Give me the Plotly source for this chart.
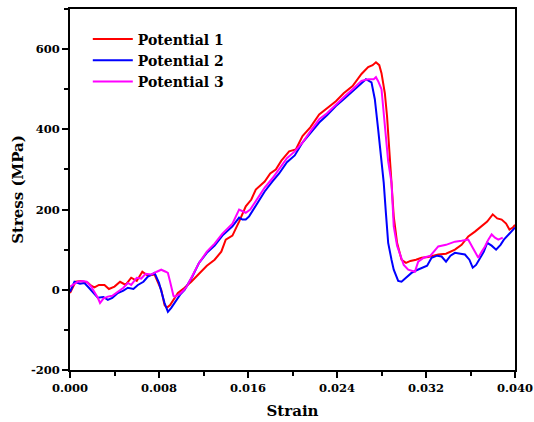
import plotly.graph_objects as go

# Potential 1 (red)
strain_p1 = [0.0000, 0.0005, 0.0010, 0.0016, 0.0019, 0.0022, 0.0026, 0.0031, 0.0035, 0.0040, 0.0045,
             0.0050, 0.0055, 0.0060, 0.0065, 0.0070, 0.0076, 0.0079, 0.0082, 0.0085, 0.0087, 0.0090,
             0.0094, 0.0097, 0.0103, 0.0109, 0.0116, 0.0123, 0.0130, 0.0136, 0.0140, 0.0146, 0.0152,
             0.0158, 0.0163, 0.0167, 0.0175, 0.0180, 0.0185, 0.0190, 0.0197, 0.0203, 0.0209, 0.0216,
             0.0224, 0.0231, 0.0239, 0.0246, 0.0254, 0.0262, 0.0268, 0.0272, 0.0275, 0.0278, 0.0280,
             0.0283, 0.0285, 0.0288, 0.0291, 0.0294, 0.0298, 0.0302, 0.0306, 0.0311, 0.0316, 0.0322,
             0.0331, 0.0338, 0.0346, 0.0352, 0.0358, 0.0364, 0.0370, 0.0375, 0.0380, 0.0384, 0.0388,
             0.0392, 0.0395, 0.0398, 0.0400]
stress_p1 = [-8, 20, 22, 18, 10, 6, 12, 12, 2, 8, 20,
             12, 30, 22, 45, 35, 38, 20, 0, -38, -45, -38,
             -20, -8, 5, 20, 40, 60, 75, 95, 125, 135, 170,
             208, 225, 250, 270, 290, 300, 322, 345, 350, 383, 405,
             437, 452, 470, 490, 508, 538, 555, 560, 567, 560, 540,
             490, 432, 308, 183, 117, 75, 67, 72, 75, 80, 82,
             88, 90, 100, 112, 133, 145, 158, 170, 188, 178, 175,
             165, 150, 155, 162]

# Potential 2 (blue)
strain_p2 = [0.0000, 0.0004, 0.0009, 0.0013, 0.0017, 0.0020, 0.0025, 0.0030, 0.0034, 0.0038, 0.0043,
             0.0048, 0.0052, 0.0057, 0.0061, 0.0066, 0.0070, 0.0076, 0.0080, 0.0085, 0.0088, 0.0091,
             0.0094, 0.0099, 0.0103, 0.0110, 0.0116, 0.0123, 0.0130, 0.0137, 0.0146, 0.0152, 0.0155,
             0.0158, 0.0161, 0.0168, 0.0175, 0.0182, 0.0188, 0.0195, 0.0202, 0.0209, 0.0216, 0.0224,
             0.0231, 0.0239, 0.0246, 0.0254, 0.0262, 0.0266, 0.0271, 0.0274, 0.0277, 0.0279, 0.0282,
             0.0284, 0.0286, 0.0289, 0.0291, 0.0295, 0.0298, 0.0302, 0.0307, 0.0311, 0.0316, 0.0321,
             0.0325, 0.0330, 0.0334, 0.0338, 0.0342, 0.0346, 0.0351, 0.0355, 0.0359, 0.0362, 0.0365,
             0.0368, 0.0372, 0.0375, 0.0379, 0.0383, 0.0387, 0.0390, 0.0395, 0.0400]
stress_p2 = [-5, 20, 15, 17, 5, -5, -20, -18, -25, -20, -8,
             -2, 5, 2, 12, 20, 33, 42, 17, -33, -55, -45,
             -33, -12, 0, 33, 67, 92, 110, 135, 158, 180, 175,
             175, 183, 215, 245, 270, 290, 318, 335, 367, 390, 417,
             435, 458, 475, 496, 517, 525, 517, 475, 400, 350, 267,
             190, 117, 75, 50, 22, 20, 30, 42, 48, 55, 60,
             80, 85, 83, 70, 85, 92, 90, 88, 75, 55, 62,
             75, 95, 117, 110, 100, 112, 125, 140, 155]

# Potential 3 (magenta)
strain_p3 = [0.0000, 0.0004, 0.0007, 0.0011, 0.0015, 0.0019, 0.0022, 0.0025, 0.0027, 0.0030, 0.0034,
             0.0038, 0.0043, 0.0048, 0.0052, 0.0055, 0.0060, 0.0064, 0.0068, 0.0073, 0.0078, 0.0082,
             0.0086, 0.0088, 0.0090, 0.0091, 0.0093, 0.0094, 0.0098, 0.0102, 0.0105, 0.0110, 0.0116,
             0.0123, 0.0130, 0.0137, 0.0146, 0.0152, 0.0158, 0.0162, 0.0168, 0.0175, 0.0182, 0.0188,
             0.0195, 0.0202, 0.0209, 0.0216, 0.0224, 0.0231, 0.0239, 0.0246, 0.0254, 0.0262, 0.0268,
             0.0273, 0.0275, 0.0277, 0.0280, 0.0282, 0.0284, 0.0286, 0.0289, 0.0291, 0.0294, 0.0297,
             0.0300, 0.0304, 0.0307, 0.0310, 0.0313, 0.0318, 0.0324, 0.0331, 0.0338, 0.0346, 0.0352,
             0.0358, 0.0362, 0.0365, 0.0367, 0.0370, 0.0373, 0.0376, 0.0379, 0.0382, 0.0385, 0.0389]
stress_p3 = [8, 15, 20, 22, 20, 8, -5, -20, -33, -22, -17,
             -15, -5, 5, 17, 12, 30, 28, 40, 38, 45, 50,
             45, 42, 20, 8, -15, -17, -12, -2, 8, 35, 67,
             95, 115, 140, 165, 200, 192, 200, 225, 255, 278, 300,
             328, 345, 367, 395, 425, 440, 462, 480, 500, 521, 525,
             525, 530, 520, 500, 440, 392, 320, 267, 158, 110, 83,
             62, 50, 48, 45, 70, 80, 85, 108, 112, 120, 122,
             125, 105, 90, 80, 95, 108, 125, 138, 130, 125, 130]

names = ["Potential 1", "Potential 2", "Potential 3"]
colors = ["#FF0000", "#0000FF", "#FF00FF"]

x_tickvals = [0.0, 0.008, 0.016, 0.024, 0.032, 0.040]
x_ticktext = ["0.000", "0.008", "0.016", "0.024", "0.032", "0.040"]
y_tickvals = [-200, 0, 200, 400, 600]
y_ticktext = ["-200", "0", "200", "400", "600"]

f_serif = "DejaVu Serif"

fig = go.Figure()
for xs, ys, nm, c in zip([strain_p1, strain_p2, strain_p3],
                         [stress_p1, stress_p2, stress_p3], names, colors):
    fig.add_trace(go.Scatter(x=xs, y=ys, mode="lines", name=nm,
                             line=dict(color=c, width=2)))

axis_common = dict(showline=True, linecolor="black", linewidth=2, mirror=True,
                   ticks="outside", ticklen=6, tickwidth=2, tickcolor="black",
                   showgrid=False, zeroline=False, automargin=False,
                   ticklabeloverflow="allow",
                   tickfont=dict(family=f_serif, size=11.5, color="black", weight="bold"))

fig.update_xaxes(range=[0, 0.040], tickvals=x_tickvals, ticktext=x_ticktext,
                 minor=dict(dtick=0.004, tick0=0, ticks="outside", ticklen=4, tickwidth=2, tickcolor="black"),
                 title=dict(text="Strain", font=dict(family=f_serif, size=15, color="black", weight="bold"), standoff=12),
                 **axis_common)
fig.update_yaxes(range=[-200, 700], tickvals=y_tickvals, ticktext=y_ticktext,
                 minor=dict(dtick=100, tick0=0, ticks="outside", ticklen=4, tickwidth=2, tickcolor="black"),
                 title=dict(text="Stress (MPa)", font=dict(family=f_serif, size=15, color="black", weight="bold"), standoff=4),
                 **axis_common)

fig.update_layout(
    width=534, height=422,
    margin=dict(l=70, r=19, t=9, b=52),
    paper_bgcolor="white", plot_bgcolor="white",
    font=dict(family=f_serif, size=12, color="black", weight="bold"),
    legend=dict(x=0.04, y=0.96, xanchor="left", yanchor="top",
                bgcolor="rgba(0,0,0,0)", borderwidth=0, itemwidth=40,
                font=dict(family=f_serif, size=14, color="black", weight="bold"),
                tracegroupgap=0),
    showlegend=True,
)

fig.write_html("out.html")
